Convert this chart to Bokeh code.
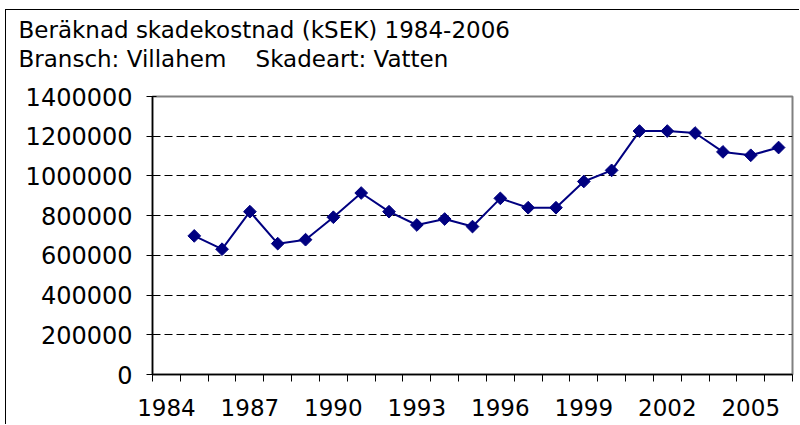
import math
from bokeh.plotting import figure
from bokeh.models import FixedTicker, Title, ColumnDataSource
from bokeh.embed import file_html
from bokeh.resources import INLINE

title_line1 = "Beräknad skadekostnad (kSEK) 1984-2006"
title_line2 = "Bransch: Villahem\u00a0\u00a0\u00a0 Skadeart: Vatten"

years = [1985, 1986, 1987, 1988, 1989, 1990, 1991, 1992, 1993, 1994, 1995,
         1996, 1997, 1998, 1999, 2000, 2001, 2002, 2003, 2004, 2005, 2006]
cost = [698000, 631000, 820000, 659000, 679000, 792000, 914000, 820000, 753000, 783000, 745000,
        887000, 840000, 840000, 972000, 1028000, 1226000, 1226000, 1216000, 1121000, 1104000, 1143000]

x_label_years = [1984, 1987, 1990, 1993, 1996, 1999, 2002, 2005]
category_edges = [y - 0.5 for y in range(1984, 2008)]
y_ticks = [0, 200000, 400000, 600000, 800000, 1000000, 1200000, 1400000]

FONT = "DejaVu Sans"
NAVY = "#000080"

p = figure(width=794, height=415, output_backend="svg", toolbar_location=None,
           x_range=(1983.5, 2006.5), y_range=(0, 1400000),
           min_border_left=146, min_border_right=8, min_border_top=86, min_border_bottom=51)
p.margin = (9, 0, 0, 5)
p.styles = {"border-left": "1px solid black", "border-top": "1px solid black"}

p.background_fill_color = "white"
p.border_fill_color = "white"
p.outline_line_color = "#808080"
p.outline_line_width = 2

p.xgrid.visible = False
p.ygrid.ticker = FixedTicker(ticks=[200000, 400000, 600000, 800000, 1000000, 1200000])
p.ygrid.grid_line_color = "black"
p.ygrid.grid_line_dash = "8 4"
p.ygrid.grid_line_width = 1

# x axis
p.xaxis.ticker = FixedTicker(ticks=x_label_years, minor_ticks=category_edges)
p.xaxis.major_tick_in = 0
p.xaxis.major_tick_out = 0
p.xaxis.minor_tick_in = 0
p.xaxis.minor_tick_out = 7
p.xaxis.minor_tick_line_color = "black"
p.xaxis.axis_line_color = "black"
p.xaxis.axis_line_width = 1.5
p.xaxis.major_label_text_font = FONT
p.xaxis.major_label_text_font_size = "23px"
p.xaxis.major_label_text_color = "black"
p.xaxis.major_label_standoff = 17

# y axis
p.yaxis.ticker = FixedTicker(ticks=y_ticks, minor_ticks=[])
p.yaxis.major_tick_in = 4
p.yaxis.major_tick_out = 6
p.yaxis.major_tick_line_color = "black"
p.yaxis.axis_line_color = "black"
p.yaxis.axis_line_width = 1.5
p.yaxis.major_label_text_font = FONT
p.yaxis.major_label_text_font_size = "24px"
p.yaxis.major_label_text_color = "black"
p.yaxis.major_label_standoff = 14
p.yaxis.formatter.use_scientific = False

src = ColumnDataSource(data=dict(x=years, y=cost))
p.line("x", "y", source=src, line_color=NAVY, line_width=2)
p.scatter("x", "y", source=src, marker="square", size=9, angle=math.pi / 4,
          fill_color=NAVY, line_color=NAVY)

# spacer panel between the title block and the plot area
spacer = Title(text="\u00a0", align="left", standoff=0, text_font=FONT,
               text_font_size="17px", text_color="white")
p.add_layout(spacer, "above")

t = Title(text=title_line1 + "\n" + title_line2, align="left", offset=-134, standoff=0,
          vertical_align="top", text_line_height=1.15,
          text_font=FONT, text_font_size="23px", text_font_style="normal", text_color="black")
p.add_layout(t, "above")

open("out.html", "w").write(file_html(p, INLINE))
